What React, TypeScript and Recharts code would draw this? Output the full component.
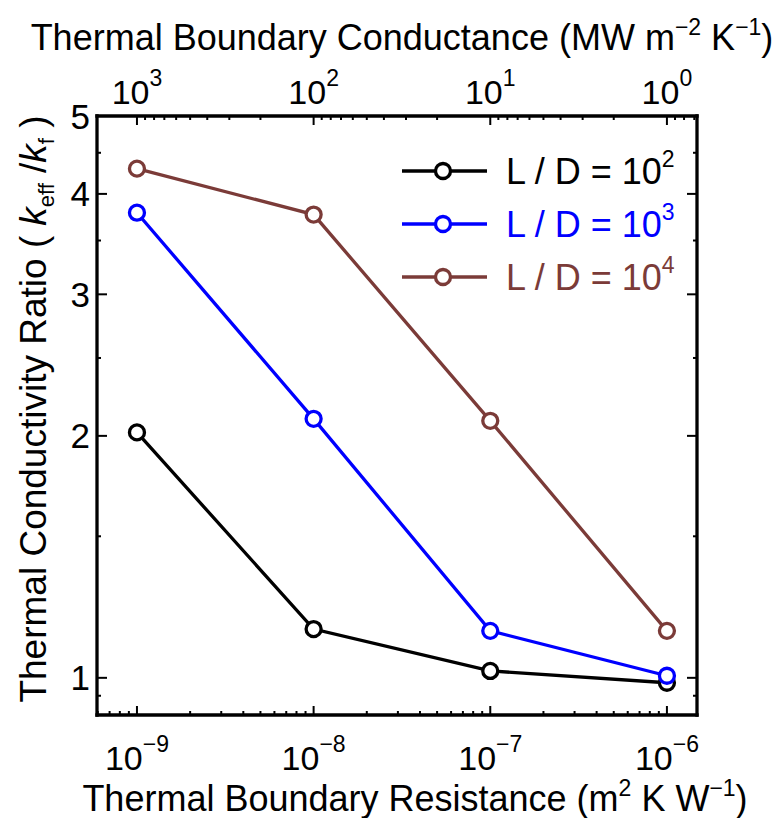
import { LineChart, Line, XAxis, YAxis, Legend, Label } from "recharts";

// thermal boundary resistance, m^2 K W^-1
const resistance = [1e-9, 1e-8, 1e-7, 1e-6];
// k_eff / k_f for each L/D
const ratioLD2 = [2.02, 1.15, 1.02, 0.986];
const ratioLD3 = [3.79, 2.1, 1.144, 1.006];
const ratioLD4 = [4.3, 3.77, 2.088, 1.144];

const seriesExp = ["2", "3", "4"];
const seriesColors = ["#000000", "#0000ff", "#7b3b38"];

const xDomain = [5.94e-10, 1.48e-6];
const yDomain = [0.899, 5];

const multipliers = [2, 3, 4, 5, 6, 7, 8, 9];
const decades = [1e-10, 1e-9, 1e-8, 1e-7, 1e-6];
const gDecades = [0.1, 1, 10, 100, 1000];

const yTicks = [0.95, 1, 1.5, 2, 2.5, 3, 3.5, 4, 4.5, 5];

const inDomain = (v: number) => v >= xDomain[0] && v <= xDomain[1];
const bottomTicks = [
  ...decades.map((d) => d * 10),
  ...decades.flatMap((d) => multipliers.map((m) => m * d)),
].filter(inDomain);
// top axis: conductance (MW m^-2 K^-1) = 1e-6 / R
const topTicks = [
  ...gDecades.map((g) => 1e-6 / (g * 10)),
  ...gDecades.flatMap((g) => multipliers.map((m) => 1e-6 / (m * g))),
].filter(inDomain);

const data = resistance.map((r, i) => ({
  r,
  a: ratioLD2[i],
  b: ratioLD3[i],
  c: ratioLD4[i],
}));

const FONT = "'Liberation Sans', Arial, Helvetica, sans-serif";

function isMajor(v: number) {
  const e = Math.log10(v);
  return Math.abs(e - Math.round(e)) < 1e-6;
}

function BottomTick(props: any) {
  const { x, y, payload } = props;
  const v = payload.value;
  const major = isMajor(v);
  const e = Math.round(Math.log10(v));
  return (
    <g>
      <line x1={x} x2={x} y1={y} y2={y - (major ? 9 : 4)} stroke="#000" strokeWidth={2} />
      {major && (
        <text x={x} y={y + 55} textAnchor="middle" fontFamily={FONT} fontSize={34} fill="#000">
          10
          <tspan dy={-18} fontSize={23}>{`\u2212${Math.abs(e)}`}</tspan>
        </text>
      )}
    </g>
  );
}

function TopTick(props: any) {
  const { x, y, payload } = props;
  const v = payload.value;
  const major = isMajor(v);
  const e = Math.round(-6 - Math.log10(v));
  return (
    <g>
      <line x1={x} x2={x} y1={y} y2={y + (major ? 9 : 4)} stroke="#000" strokeWidth={2} />
      {major && (
        <text x={x} y={y - 12} textAnchor="middle" fontFamily={FONT} fontSize={34} fill="#000">
          10
          <tspan dy={-18} fontSize={23}>{`${e}`}</tspan>
        </text>
      )}
    </g>
  );
}

function LeftTick(props: any) {
  const { x, y, payload } = props;
  const v = payload.value;
  const major = Number.isInteger(v);
  return (
    <g>
      <line x1={x} x2={x + (major ? 10 : 4)} y1={y} y2={y} stroke="#000" strokeWidth={2} />
      {major && (
        <text x={x - 7} y={y} dy="0.36em" textAnchor="end" fontFamily={FONT} fontSize={35} fill="#000">
          {v}
        </text>
      )}
    </g>
  );
}

function RightTick(props: any) {
  const { x, y, payload } = props;
  const major = Number.isInteger(payload.value);
  return <line x1={x} x2={x - (major ? 10 : 4)} y1={y} y2={y} stroke="#000" strokeWidth={2} />;
}

function LegendBox(props: any) {
  const items = props.payload || [];
  return (
    <svg width={300} height={160} style={{ overflow: "visible" }}>
      {items.map((it: any, i: number) => {
        const cy = 23 + i * 53;
        return (
          <g key={i}>
            <line x1={4} x2={89} y1={cy} y2={cy} stroke={it.color} strokeWidth={3.3} />
            <circle cx={45} cy={cy} r={7.5} fill="#fff" stroke={it.color} strokeWidth={3.3} />
            <text x={108} y={cy + 13} fontFamily={FONT} fontSize={36} fill={it.color}>
              L / D = 10
              <tspan dy={-17} fontSize={23}>{it.value}</tspan>
            </text>
          </g>
        );
      })}
    </svg>
  );
}

const axisLineStyle = { stroke: "#000", strokeWidth: 3.3, strokeLinecap: "square" as const };

export default function App() {
  const keys = ["a", "b", "c"];
  return (
    <LineChart
      width={773}
      height={810}
      data={data}
      margin={{ top: 8, right: 74, bottom: 3, left: 0 }}
      style={{ fontFamily: FONT }}
    >
      <XAxis
        xAxisId="bottom"
        dataKey="r"
        type="number"
        scale="log"
        domain={xDomain}
        allowDataOverflow
        ticks={bottomTicks}
        interval={0}
        tick={BottomTick}
        tickLine={false}
        tickSize={0}
        tickMargin={0}
        height={100}
        axisLine={axisLineStyle}
      >
        <Label
          content={() => (
            <text x={407} y={803} textAnchor="middle" fontFamily={FONT} fontSize={36} fill="#000">
              Thermal Boundary Resistance (m
              <tspan dy={-15} fontSize={23}>2</tspan>
              <tspan dy={15}> K W</tspan>
              <tspan dy={-15} fontSize={23}>{"\u22121"}</tspan>
              <tspan dy={15}>)</tspan>
            </text>
          )}
        />
      </XAxis>
      <XAxis
        xAxisId="top"
        orientation="top"
        dataKey="r"
        type="number"
        scale="log"
        domain={xDomain}
        allowDataOverflow
        ticks={topTicks}
        interval={0}
        tick={TopTick}
        tickLine={false}
        tickSize={0}
        tickMargin={0}
        height={100}
        axisLine={axisLineStyle}
      >
        <Label
          content={() => (
            <text x={394} y={42} textAnchor="middle" fontFamily={FONT} fontSize={36} fill="#000">
              Thermal Boundary Conductance (MW m
              <tspan dy={-15} fontSize={23}>{"\u22122"}</tspan>
              <tspan dy={15}> K</tspan>
              <tspan dy={-15} fontSize={23}>{"\u22121"}</tspan>
              <tspan dy={15}>)</tspan>
            </text>
          )}
        />
      </XAxis>
      <YAxis
        yAxisId="left"
        type="number"
        scale="log"
        domain={yDomain}
        allowDataOverflow
        ticks={yTicks}
        interval={0}
        tick={LeftTick}
        tickLine={false}
        tickSize={0}
        tickMargin={0}
        width={89}
        axisLine={axisLineStyle}
      >
        <Label
          content={() => (
            <text
              transform="translate(38 401) rotate(-90)"
              textAnchor="middle"
              fontFamily={FONT}
              fontSize={37}
              fill="#000"
            >
              Thermal Conductivity Ratio (
              <tspan fontStyle="italic" dx={10}>k</tspan>
              <tspan dy={8} fontSize={22}>eff</tspan>
              <tspan dy={-8}> /</tspan>
              <tspan fontStyle="italic">k</tspan>
              <tspan dy={8} fontSize={22}>f</tspan>
              <tspan dy={-8}> )</tspan>
            </text>
          )}
        />
      </YAxis>
      <YAxis
        yAxisId="right"
        orientation="right"
        type="number"
        scale="log"
        domain={yDomain}
        allowDataOverflow
        ticks={yTicks}
        interval={0}
        tick={RightTick}
        tickLine={false}
        tickSize={0}
        tickMargin={0}
        width={10}
        axisLine={axisLineStyle}
      />
      <Legend
        content={LegendBox}
        layout="horizontal"
        align="center"
        verticalAlign="middle"
        wrapperStyle={{ left: 390, top: 140, width: 300, height: 160 }}
      />
      {keys.map((k, i) => (
        <Line
          key={k}
          xAxisId="bottom"
          yAxisId="left"
          dataKey={k}
          name={seriesExp[i]}
          stroke={seriesColors[i]}
          strokeWidth={3.3}
          dot={{ r: 7.5, fill: "#fff", stroke: seriesColors[i], strokeWidth: 3.3 }}
          isAnimationActive={false}
        />
      ))}
    </LineChart>
  );
}
